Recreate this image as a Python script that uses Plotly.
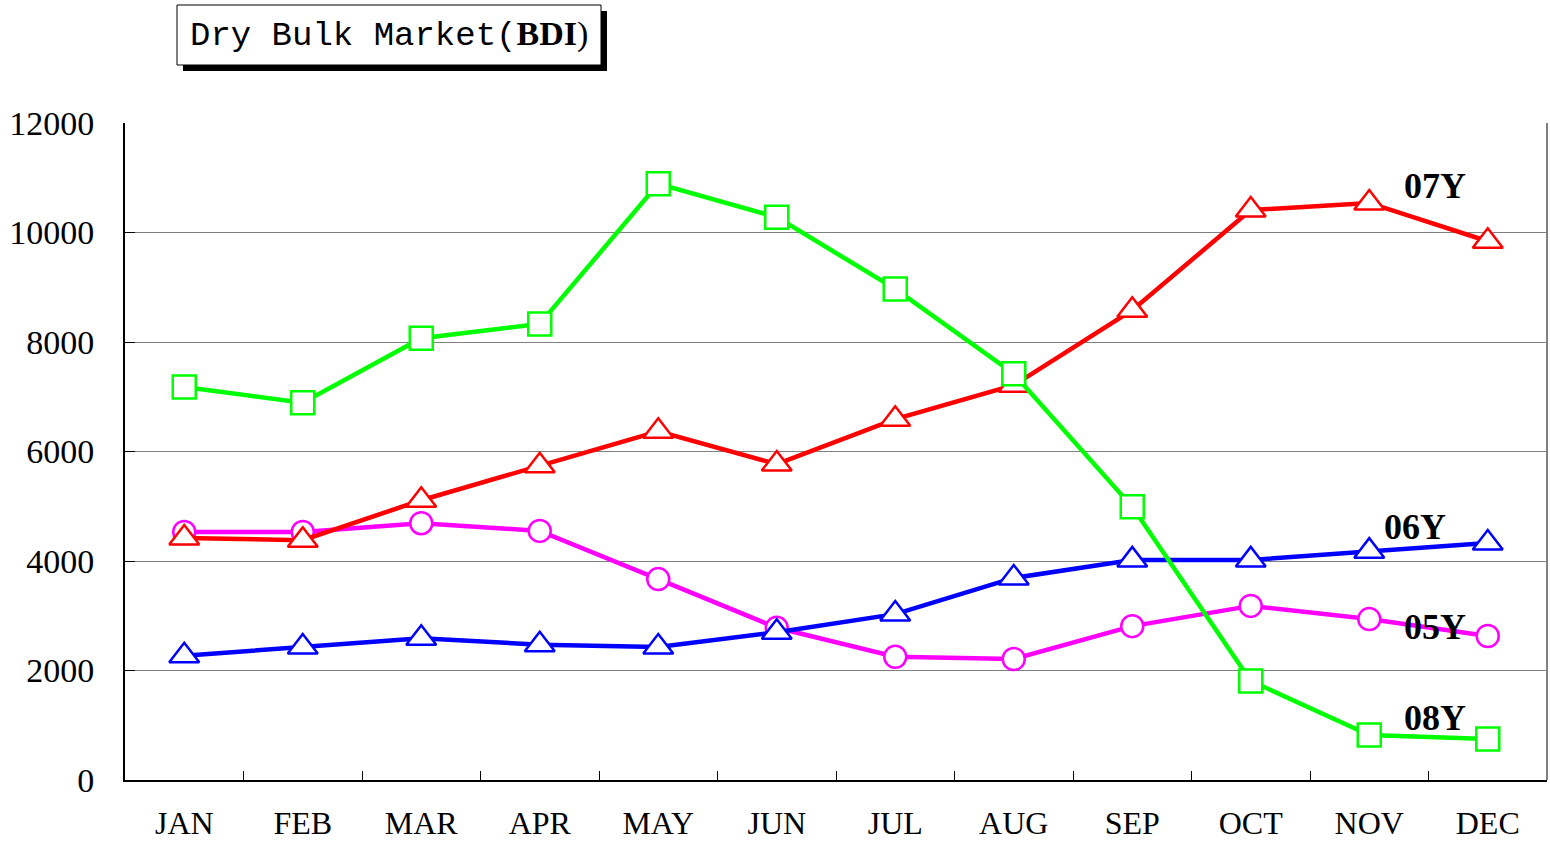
import plotly.graph_objects as go

months = ["JAN", "FEB", "MAR", "APR", "MAY", "JUN", "JUL", "AUG", "SEP", "OCT", "NOV", "DEC"]
y05 = [4530, 4530, 4690, 4550, 3670, 2780, 2250, 2210, 2810, 3180, 2940, 2630]
y06 = [2270, 2430, 2590, 2470, 2430, 2700, 3030, 3690, 4020, 4020, 4180, 4330]
y07 = [4420, 4380, 5110, 5740, 6370, 5770, 6590, 7210, 8580, 10410, 10540, 9840]
y08 = [7180, 6890, 8070, 8330, 10890, 10280, 8970, 7420, 4990, 1810, 820, 750]

series = [
    ("05Y", y05, "#ff00ff", "circle", 22),
    ("06Y", y06, "#0000ff", "triangle-up", 26),
    ("07Y", y07, "#ff0000", "triangle-up", 26),
    ("08Y", y08, "#00ff00", "square", 23),
]

fig = go.Figure()
for name, ys, color, sym, sz in series:
    fig.add_trace(go.Scatter(
        x=months, y=ys, name=name, mode="lines+markers",
        line=dict(color=color, width=4.5),
        marker=dict(symbol=sym, size=sz, color="white", line=dict(color=color, width=2.5)),
    ))

W, H = 1550, 842
L, R, T, B = 125, 3, 123, 62
pw, ph = W - L - R, H - T - B

def px(x):
    return (x - L) / pw

def py(y):
    return (H - B - y) / ph

labels = [("07Y", 1435, 186), ("06Y", 1415, 527), ("05Y", 1435, 627), ("08Y", 1435, 718)]
for txt, lx, ly in labels:
    fig.add_annotation(x=px(lx), y=py(ly), xref="paper", yref="paper", text="<b>%s</b>" % txt,
                       showarrow=False, font=dict(family="Liberation Serif", size=36, color="black"),
                       xanchor="center", yanchor="middle")

# title box with shadow
fig.add_shape(type="rect", xref="paper", yref="paper", x0=px(183), x1=px(607), y0=py(71), y1=py(11),
              fillcolor="black", line=dict(width=0), layer="above")
fig.add_shape(type="rect", xref="paper", yref="paper", x0=px(177), x1=px(601), y0=py(65), y1=py(5),
              fillcolor="white", line=dict(color="black", width=1), layer="above")
fig.add_annotation(x=px(389), y=py(35), xref="paper", yref="paper",
                   text="<span style='font-family:Liberation Mono'>Dry Bulk Market(</span>"
                        "<b>BDI</b>)",
                   showarrow=False,
                   font=dict(family="Liberation Serif", size=34, color="black"),
                   xanchor="center", yanchor="middle")
# right border
fig.add_shape(type="line", xref="paper", yref="paper", x0=1, x1=1, y0=0, y1=1,
              line=dict(color="#808080", width=2))

fig.update_layout(
    width=W, height=H,
    margin=dict(l=L, r=R, t=T, b=B),
    paper_bgcolor="white", plot_bgcolor="white",
    showlegend=False,
    xaxis=dict(type="category", range=[-0.5, 11.5], showgrid=False, showline=True,
               linecolor="black", linewidth=2, ticks="inside", tickson="boundaries",
               ticklen=9, tickcolor="black", tickwidth=1, automargin=False,
               tickfont=dict(family="Liberation Serif", size=32, color="black"),
               ticklabelstandoff=14),
    yaxis=dict(range=[0, 12000], dtick=2000, tickformat="d", showgrid=True,
               gridcolor="#808080", gridwidth=1, automargin=False,
               showline=True, linecolor="black", linewidth=2, ticks="inside", ticklen=10,
               tickcolor="black", zeroline=False,
               tickfont=dict(family="Liberation Serif", size=34, color="black"),
               ticklabelstandoff=22),
)

fig.write_html("out.html", config={"displayModeBar": False},
               post_script="document.body.style.margin='0';document.body.style.overflow='hidden';")
